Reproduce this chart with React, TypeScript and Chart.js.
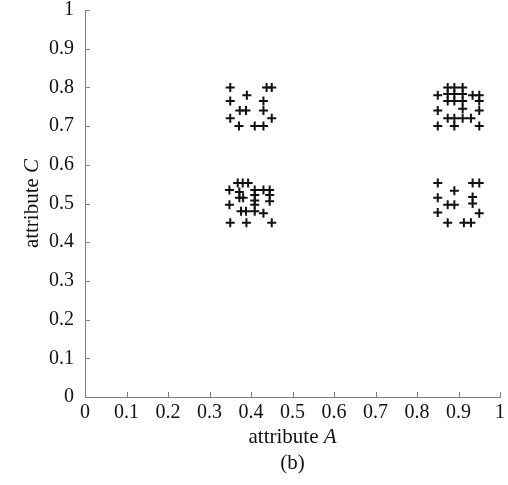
import React, { useEffect, useRef } from 'react';
import { Chart, registerables } from 'chart.js';

Chart.register(...registerables);

// Four clusters of (attribute A, attribute C) samples
const clusterLowAHighC = [
  { x: 0.35, y: 0.8 }, { x: 0.4375, y: 0.8 }, { x: 0.45, y: 0.8 },
  { x: 0.39, y: 0.78 },
  { x: 0.35, y: 0.765 }, { x: 0.43, y: 0.765 },
  { x: 0.373, y: 0.74 }, { x: 0.388, y: 0.74 }, { x: 0.43, y: 0.74 },
  { x: 0.35, y: 0.72 }, { x: 0.45, y: 0.72 },
  { x: 0.371, y: 0.7 }, { x: 0.409, y: 0.7 }, { x: 0.43, y: 0.7 },
];

const clusterLowALowC = [
  { x: 0.368, y: 0.553 }, { x: 0.38, y: 0.553 }, { x: 0.393, y: 0.553 },
  { x: 0.348, y: 0.535 }, { x: 0.409, y: 0.535 }, { x: 0.43, y: 0.535 }, { x: 0.445, y: 0.535 },
  { x: 0.372, y: 0.53 },
  { x: 0.409, y: 0.522 }, { x: 0.445, y: 0.522 },
  { x: 0.372, y: 0.515 }, { x: 0.381, y: 0.515 },
  { x: 0.409, y: 0.508 }, { x: 0.445, y: 0.506 },
  { x: 0.348, y: 0.497 }, { x: 0.409, y: 0.497 },
  { x: 0.376, y: 0.48 }, { x: 0.388, y: 0.48 }, { x: 0.409, y: 0.48 },
  { x: 0.43, y: 0.475 },
  { x: 0.35, y: 0.45 }, { x: 0.389, y: 0.45 }, { x: 0.45, y: 0.45 },
];

const clusterHighAHighC = [
  { x: 0.874, y: 0.8 }, { x: 0.89, y: 0.8 }, { x: 0.91, y: 0.8 },
  { x: 0.874, y: 0.783 }, { x: 0.89, y: 0.783 }, { x: 0.91, y: 0.783 },
  { x: 0.85, y: 0.78 }, { x: 0.934, y: 0.78 }, { x: 0.95, y: 0.78 },
  { x: 0.874, y: 0.765 }, { x: 0.89, y: 0.765 }, { x: 0.91, y: 0.765 }, { x: 0.95, y: 0.765 },
  { x: 0.91, y: 0.745 },
  { x: 0.85, y: 0.74 }, { x: 0.95, y: 0.74 },
  { x: 0.874, y: 0.72 }, { x: 0.89, y: 0.72 }, { x: 0.91, y: 0.72 }, { x: 0.93, y: 0.72 },
  { x: 0.85, y: 0.7 }, { x: 0.89, y: 0.7 }, { x: 0.95, y: 0.7 },
];

const clusterHighALowC = [
  { x: 0.85, y: 0.553 }, { x: 0.934, y: 0.553 }, { x: 0.95, y: 0.553 },
  { x: 0.89, y: 0.533 },
  { x: 0.85, y: 0.515 }, { x: 0.934, y: 0.517 },
  { x: 0.874, y: 0.497 }, { x: 0.89, y: 0.497 }, { x: 0.934, y: 0.5 },
  { x: 0.85, y: 0.477 }, { x: 0.95, y: 0.475 },
  { x: 0.874, y: 0.45 }, { x: 0.913, y: 0.45 }, { x: 0.93, y: 0.45 },
];

const tickValues = [0, 0.1, 0.2, 0.3, 0.4, 0.5, 0.6, 0.7, 0.8, 0.9, 1];
const tickLabels = ['0', '0.1', '0.2', '0.3', '0.4', '0.5', '0.6', '0.7', '0.8', '0.9', '1'];

const axisWord = 'attribute ';
const xVariable = 'A';
const yVariable = 'C';
const caption = '(b)';

const SERIF = '"Liberation Serif", "Times New Roman", serif';
const AXIS_COLOR = '#808080';
const INK = '#111111';

const labelFor = (v: number) => tickLabels[Math.round(v * 10)] ?? '';

// Tick marks that point into the plotting area
const inwardTicks = {
  id: 'inwardTicks',
  afterDraw(chart: any) {
    const { ctx, chartArea, scales } = chart;
    ctx.save();
    ctx.strokeStyle = AXIS_COLOR;
    ctx.lineWidth = 1;
    ctx.beginPath();
    tickValues.forEach((v) => {
      const x = Math.round(scales.x.getPixelForValue(v)) + 0.5;
      ctx.moveTo(x, chartArea.bottom);
      ctx.lineTo(x, chartArea.bottom - 5);
      const y = Math.round(scales.y.getPixelForValue(v)) + 0.5;
      ctx.moveTo(chartArea.left, y);
      ctx.lineTo(chartArea.left + 5, y);
    });
    ctx.stroke();
    ctx.restore();
  },
};

// Axis titles with an italic variable name, plus the panel caption
const axisTitles = {
  id: 'axisTitles',
  afterDraw(chart: any) {
    const { ctx, chartArea } = chart;
    const normal = `21px ${SERIF}`;
    const italic = `italic 21px ${SERIF}`;
    ctx.save();
    ctx.fillStyle = INK;
    ctx.textBaseline = 'middle';

    const drawMixed = (cx: number, cy: number, variable: string) => {
      ctx.font = normal;
      const w1 = ctx.measureText(axisWord).width;
      ctx.font = italic;
      const w2 = ctx.measureText(variable).width;
      const start = cx - (w1 + w2) / 2;
      ctx.textAlign = 'left';
      ctx.font = normal;
      ctx.fillText(axisWord, start, cy);
      ctx.font = italic;
      ctx.fillText(variable, start + w1, cy);
    };

    const cx = (chartArea.left + chartArea.right) / 2;
    drawMixed(cx, 437, xVariable);

    ctx.font = normal;
    ctx.textAlign = 'center';
    ctx.fillText(caption, cx, 463);

    ctx.save();
    ctx.translate(32, (chartArea.top + chartArea.bottom) / 2);
    ctx.rotate(-Math.PI / 2);
    drawMixed(0, 0, yVariable);
    ctx.restore();

    ctx.restore();
  },
};

const pointStyle = {
  pointStyle: 'cross' as const,
  pointRadius: 4.5,
  pointHoverRadius: 4.5,
  pointBorderWidth: 2,
  pointBorderColor: INK,
  pointBackgroundColor: INK,
  showLine: false,
};

export default function App() {
  const canvasRef = useRef<HTMLCanvasElement | null>(null);

  useEffect(() => {
    if (!canvasRef.current) return;
    const chart = new Chart(canvasRef.current, {
      type: 'scatter',
      data: {
        datasets: [
          { label: 'A low, C high', data: clusterLowAHighC, ...pointStyle },
          { label: 'A low, C low', data: clusterLowALowC, ...pointStyle },
          { label: 'A high, C high', data: clusterHighAHighC, ...pointStyle },
          { label: 'A high, C low', data: clusterHighALowC, ...pointStyle },
        ],
      },
      options: {
        animation: false,
        responsive: true,
        maintainAspectRatio: false,
        devicePixelRatio: 1,
        layout: { padding: { left: 0, right: 8, top: 10, bottom: 0 } },
        plugins: {
          legend: { display: false },
          tooltip: { enabled: false },
        },
        scales: {
          x: {
            type: 'linear',
            min: 0,
            max: 1,
            afterBuildTicks: (scale: any) => {
              scale.ticks = tickValues.map((value) => ({ value }));
            },
            afterFit: (scale: any) => {
              scale.height = 88;
              scale.paddingLeft = 0;
              scale.paddingRight = 0;
            },
            grid: { display: true, drawOnChartArea: false, drawTicks: false },
            border: { display: true, color: AXIS_COLOR, width: 1 },
            ticks: {
              padding: 4,
              maxRotation: 0,
              autoSkip: false,
              color: INK,
              font: { family: SERIF, size: 20 },
              callback: (v: any) => labelFor(Number(v)),
            },
          },
          y: {
            type: 'linear',
            min: 0,
            max: 1,
            afterBuildTicks: (scale: any) => {
              scale.ticks = tickValues.map((value) => ({ value }));
            },
            afterFit: (scale: any) => {
              scale.width = 85;
              scale.paddingTop = 0;
              scale.paddingBottom = 0;
            },
            grid: { display: true, drawOnChartArea: false, drawTicks: false },
            border: { display: true, color: AXIS_COLOR, width: 1 },
            ticks: {
              padding: 11,
              autoSkip: false,
              color: INK,
              font: { family: SERIF, size: 20 },
              callback: (v: any) => labelFor(Number(v)),
            },
          },
        },
      },
      plugins: [inwardTicks, axisTitles],
    });
    return () => chart.destroy();
  }, []);

  return (
    <div style={{ position: 'fixed', left: 0, top: 0, width: 508, height: 485, background: '#ffffff' }}>
      <canvas ref={canvasRef} />
    </div>
  );
}
